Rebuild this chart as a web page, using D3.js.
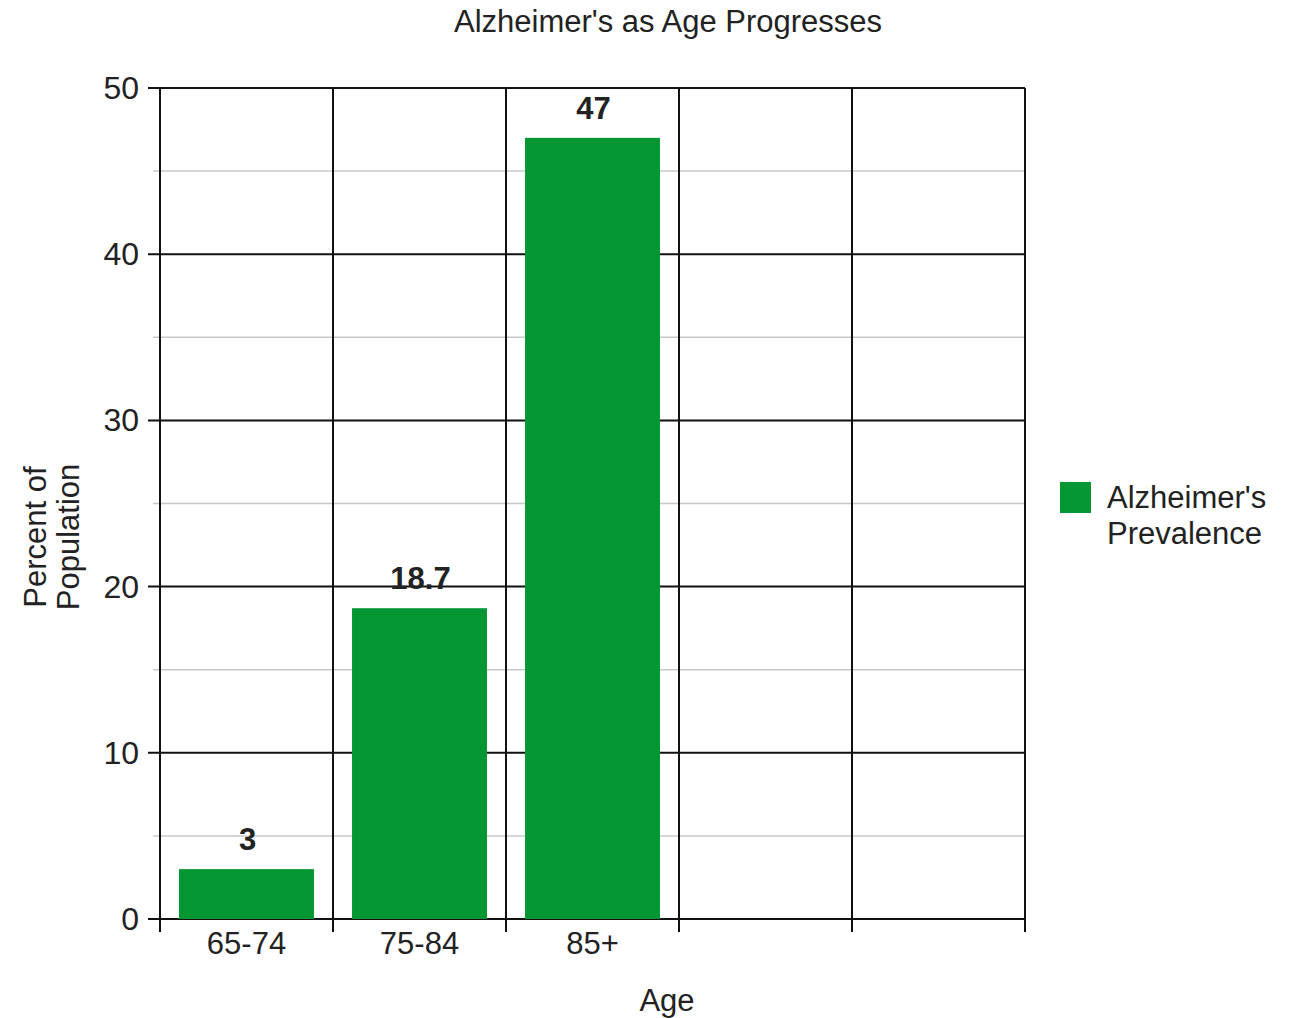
<!DOCTYPE html>
<html>
<head>
<meta charset="utf-8">
<script src="https://cdn.jsdelivr.net/npm/d3@7"></script>
<style>
  body { margin: 0; background: #fff; }
  svg text { font-family: "Liberation Sans", Arial, sans-serif; fill: #222; }
</style>
</head>
<body>
<svg id="chart" width="1291" height="1018"></svg>
<script>
// Age bands (two trailing empty slots keep the grid five columns wide)
const categories = ["65-74", "75-84", "85+", "", " "];
const ageGroups = ["65-74", "75-84", "85+"];
const prevalence = [3, 18.7, 47];
const majorTicks = [0, 10, 20, 30, 40, 50];
const minorTicks = [5, 15, 25, 35, 45];
const seriesName = ["Alzheimer's", "Prevalence"];

const svg = d3.select("#chart");
const plotLeft = 160, plotRight = 1025, plotTop = 88, plotBottom = 919;
const green = "#039632";

const x = d3.scaleBand().domain(categories).range([plotLeft, plotRight]).paddingInner(0).paddingOuter(0);
const y = d3.scaleLinear().domain([0, 50]).range([plotBottom, plotTop]);

// minor gridlines
svg.append("g").selectAll("line").data(minorTicks).join("line")
  .attr("x1", plotLeft - 7).attr("x2", plotRight)
  .attr("y1", d => y(d)).attr("y2", d => y(d))
  .attr("stroke", "#c8c8c8").attr("stroke-width", 1.5);

// major gridlines
svg.append("g").selectAll("line").data(majorTicks).join("line")
  .attr("x1", plotLeft - 12).attr("x2", plotRight)
  .attr("y1", d => y(d)).attr("y2", d => y(d))
  .attr("stroke", "#111").attr("stroke-width", 2);

// vertical column boundaries
const bounds = categories.map(c => x(c)).concat([plotRight]);
svg.append("g").selectAll("line").data(bounds).join("line")
  .attr("x1", d => d).attr("x2", d => d)
  .attr("y1", plotTop).attr("y2", plotBottom + 13)
  .attr("stroke", "#111").attr("stroke-width", 2);

// bars
const pad = x.bandwidth() * 0.11;
svg.append("g").selectAll("rect").data(ageGroups).join("rect")
  .attr("x", d => x(d) + pad)
  .attr("width", x.bandwidth() - 2 * pad)
  .attr("y", (d, i) => y(prevalence[i]))
  .attr("height", (d, i) => plotBottom - y(prevalence[i]))
  .attr("fill", green);

// value labels
svg.append("g").selectAll("text").data(ageGroups).join("text")
  .attr("x", d => x(d) + x.bandwidth() / 2 + 1)
  .attr("y", (d, i) => y(prevalence[i]) - 19)
  .attr("text-anchor", "middle")
  .attr("font-size", 31).attr("font-weight", "bold")
  .text((d, i) => prevalence[i]);

// y tick labels
svg.append("g").selectAll("text").data(majorTicks).join("text")
  .attr("x", 139).attr("y", d => y(d) + 11)
  .attr("text-anchor", "end").attr("font-size", 32)
  .attr("fill", "#333")
  .text(d => d);

// x tick labels
svg.append("g").selectAll("text").data(ageGroups).join("text")
  .attr("x", d => x(d) + x.bandwidth() / 2)
  .attr("y", 954)
  .attr("text-anchor", "middle").attr("font-size", 31)
  .attr("fill", "#333")
  .text(d => d);

// title
svg.append("text").attr("x", 668).attr("y", 32)
  .attr("text-anchor", "middle").attr("font-size", 31)
  .text("Alzheimer's as Age Progresses");

// x axis title
svg.append("text").attr("x", 667).attr("y", 1011)
  .attr("text-anchor", "middle").attr("font-size", 31)
  .text("Age");

// y axis title (two lines)
const yt = svg.append("text").attr("transform", "translate(46,537) rotate(-90)")
  .attr("text-anchor", "middle").attr("font-size", 31);
yt.append("tspan").attr("x", 0).attr("dy", 0).text("Percent of");
yt.append("tspan").attr("x", 0).attr("dy", 33).text("Population");

// legend
svg.append("rect").attr("x", 1060).attr("y", 482).attr("width", 31).attr("height", 31).attr("fill", green);
const lt = svg.append("text").attr("x", 1107).attr("y", 508).attr("font-size", 31);
lt.selectAll("tspan").data(seriesName).join("tspan")
  .attr("x", 1107).attr("dy", (d, i) => i === 0 ? 0 : 36)
  .text(d => d);
</script>
</body>
</html>
